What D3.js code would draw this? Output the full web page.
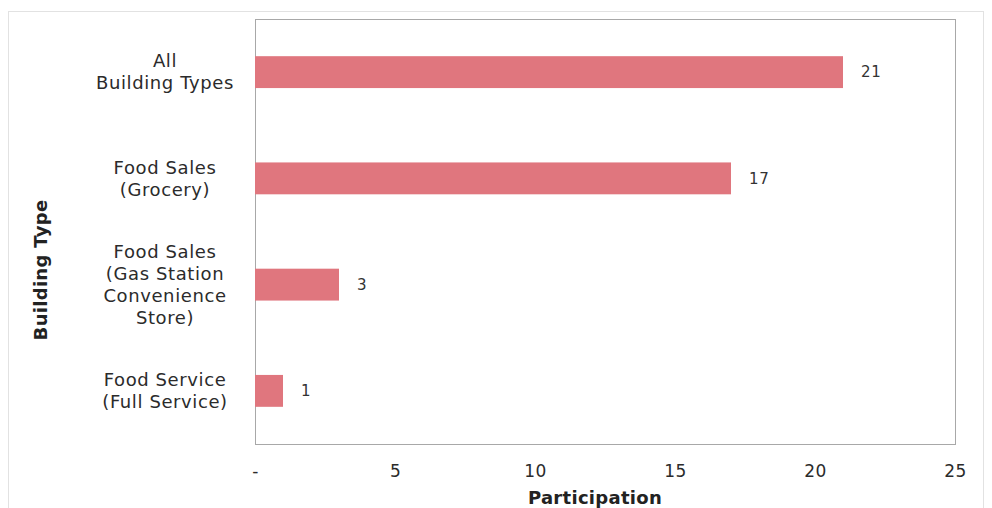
<!DOCTYPE html>
<html>
<head>
<meta charset="utf-8">
<script src="https://cdn.jsdelivr.net/npm/d3@7"></script>
<style>
  body { margin: 0; background: #fff; }
  text { font-family: "DejaVu Sans", Verdana, sans-serif; }
</style>
</head>
<body>
<div id="chart"></div>
<script>
var categories = [
  ["All", "Building Types"],
  ["Food Sales", "(Grocery)"],
  ["Food Sales", "(Gas Station", "Convenience", "Store)"],
  ["Food Service", "(Full Service)"]
];
var participation = [21, 17, 3, 1];
var xTicks = [0, 5, 10, 15, 20, 25];
var xTickLabels = ["-", "5", "10", "15", "20", "25"];

var width = 992, height = 508;
var margin = {top: 19, right: 37, bottom: 64, left: 255};

var svg = d3.select("#chart").append("svg")
    .attr("width", width)
    .attr("height", height);

// outer chart frame
svg.append("rect")
    .attr("x", 8.5).attr("y", 11.5)
    .attr("width", 975).attr("height", 520)
    .attr("fill", "none")
    .attr("stroke", "#e2e2e2");

var x = d3.scaleLinear()
    .domain([0, 25])
    .range([margin.left, width - margin.right]);

var y = d3.scaleBand()
    .domain(d3.range(categories.length))
    .range([margin.top, height - margin.bottom])
    .paddingInner(0.7)
    .paddingOuter(0.35);

// plot area box
svg.append("rect")
    .attr("x", x(0) + 0.5)
    .attr("y", margin.top + 0.5)
    .attr("width", x(25) - x(0))
    .attr("height", height - margin.bottom - margin.top)
    .attr("fill", "none")
    .attr("stroke", "#a8a8a8");

svg.selectAll(".bar")
    .data(participation)
  .enter().append("rect")
    .attr("class", "bar")
    .attr("x", x(0))
    .attr("y", function(d, i) { return y(i); })
    .attr("width", function(d) { return x(d) - x(0); })
    .attr("height", y.bandwidth())
    .attr("fill", "#e0767e");

svg.selectAll(".val")
    .data(participation)
  .enter().append("text")
    .attr("class", "val")
    .attr("x", function(d) { return x(d) + 18; })
    .attr("y", function(d, i) { return y(i) + y.bandwidth() / 2; })
    .attr("dy", "0.35em")
    .style("font-size", "15px")
    .style("letter-spacing", "0.8px")
    .style("fill", "#333")
    .text(function(d) { return d; });

// category labels
var catG = svg.selectAll(".cat")
    .data(categories)
  .enter().append("text")
    .attr("class", "cat")
    .attr("text-anchor", "middle")
    .style("font-size", "18px")
    .style("letter-spacing", "0.6px")
    .style("fill", "#2b2b2b")
    .attr("transform", function(d, i) {
      var cy = y(i) + y.bandwidth() / 2;
      return "translate(165," + (cy - (d.length - 1) * 11) + ")";
    });

catG.selectAll("tspan")
    .data(function(d) { return d; })
  .enter().append("tspan")
    .attr("x", 0)
    .attr("y", function(d, i) { return i * 22; })
    .attr("dy", "0.35em")
    .text(function(d) { return d; });

// x axis tick labels
var xAxis = d3.axisBottom(x)
    .tickValues(xTicks)
    .tickSize(0)
    .tickPadding(21)
    .tickFormat(function(d, i) { return xTickLabels[i]; });

var xg = svg.append("g")
    .attr("transform", "translate(0," + (height - margin.bottom) + ")")
    .call(xAxis);
xg.select(".domain").remove();
xg.selectAll("text")
    .style("font-size", "17px")
    .style("letter-spacing", "0.4px")
    .style("fill", "#2b2b2b")
    .style("font-family", "DejaVu Sans, Verdana, sans-serif");

svg.append("text")
    .attr("x", 595)
    .attr("y", 504)
    .attr("text-anchor", "middle")
    .style("font-size", "18px")
    .style("font-weight", "bold")
    .style("letter-spacing", "0.3px")
    .style("fill", "#222")
    .text("Participation");

svg.append("text")
    .attr("transform", "translate(47,270) rotate(-90)")
    .attr("text-anchor", "middle")
    .style("font-size", "18px")
    .style("font-weight", "bold")
    .style("letter-spacing", "0.3px")
    .style("fill", "#222")
    .text("Building Type");
</script>
</body>
</html>
